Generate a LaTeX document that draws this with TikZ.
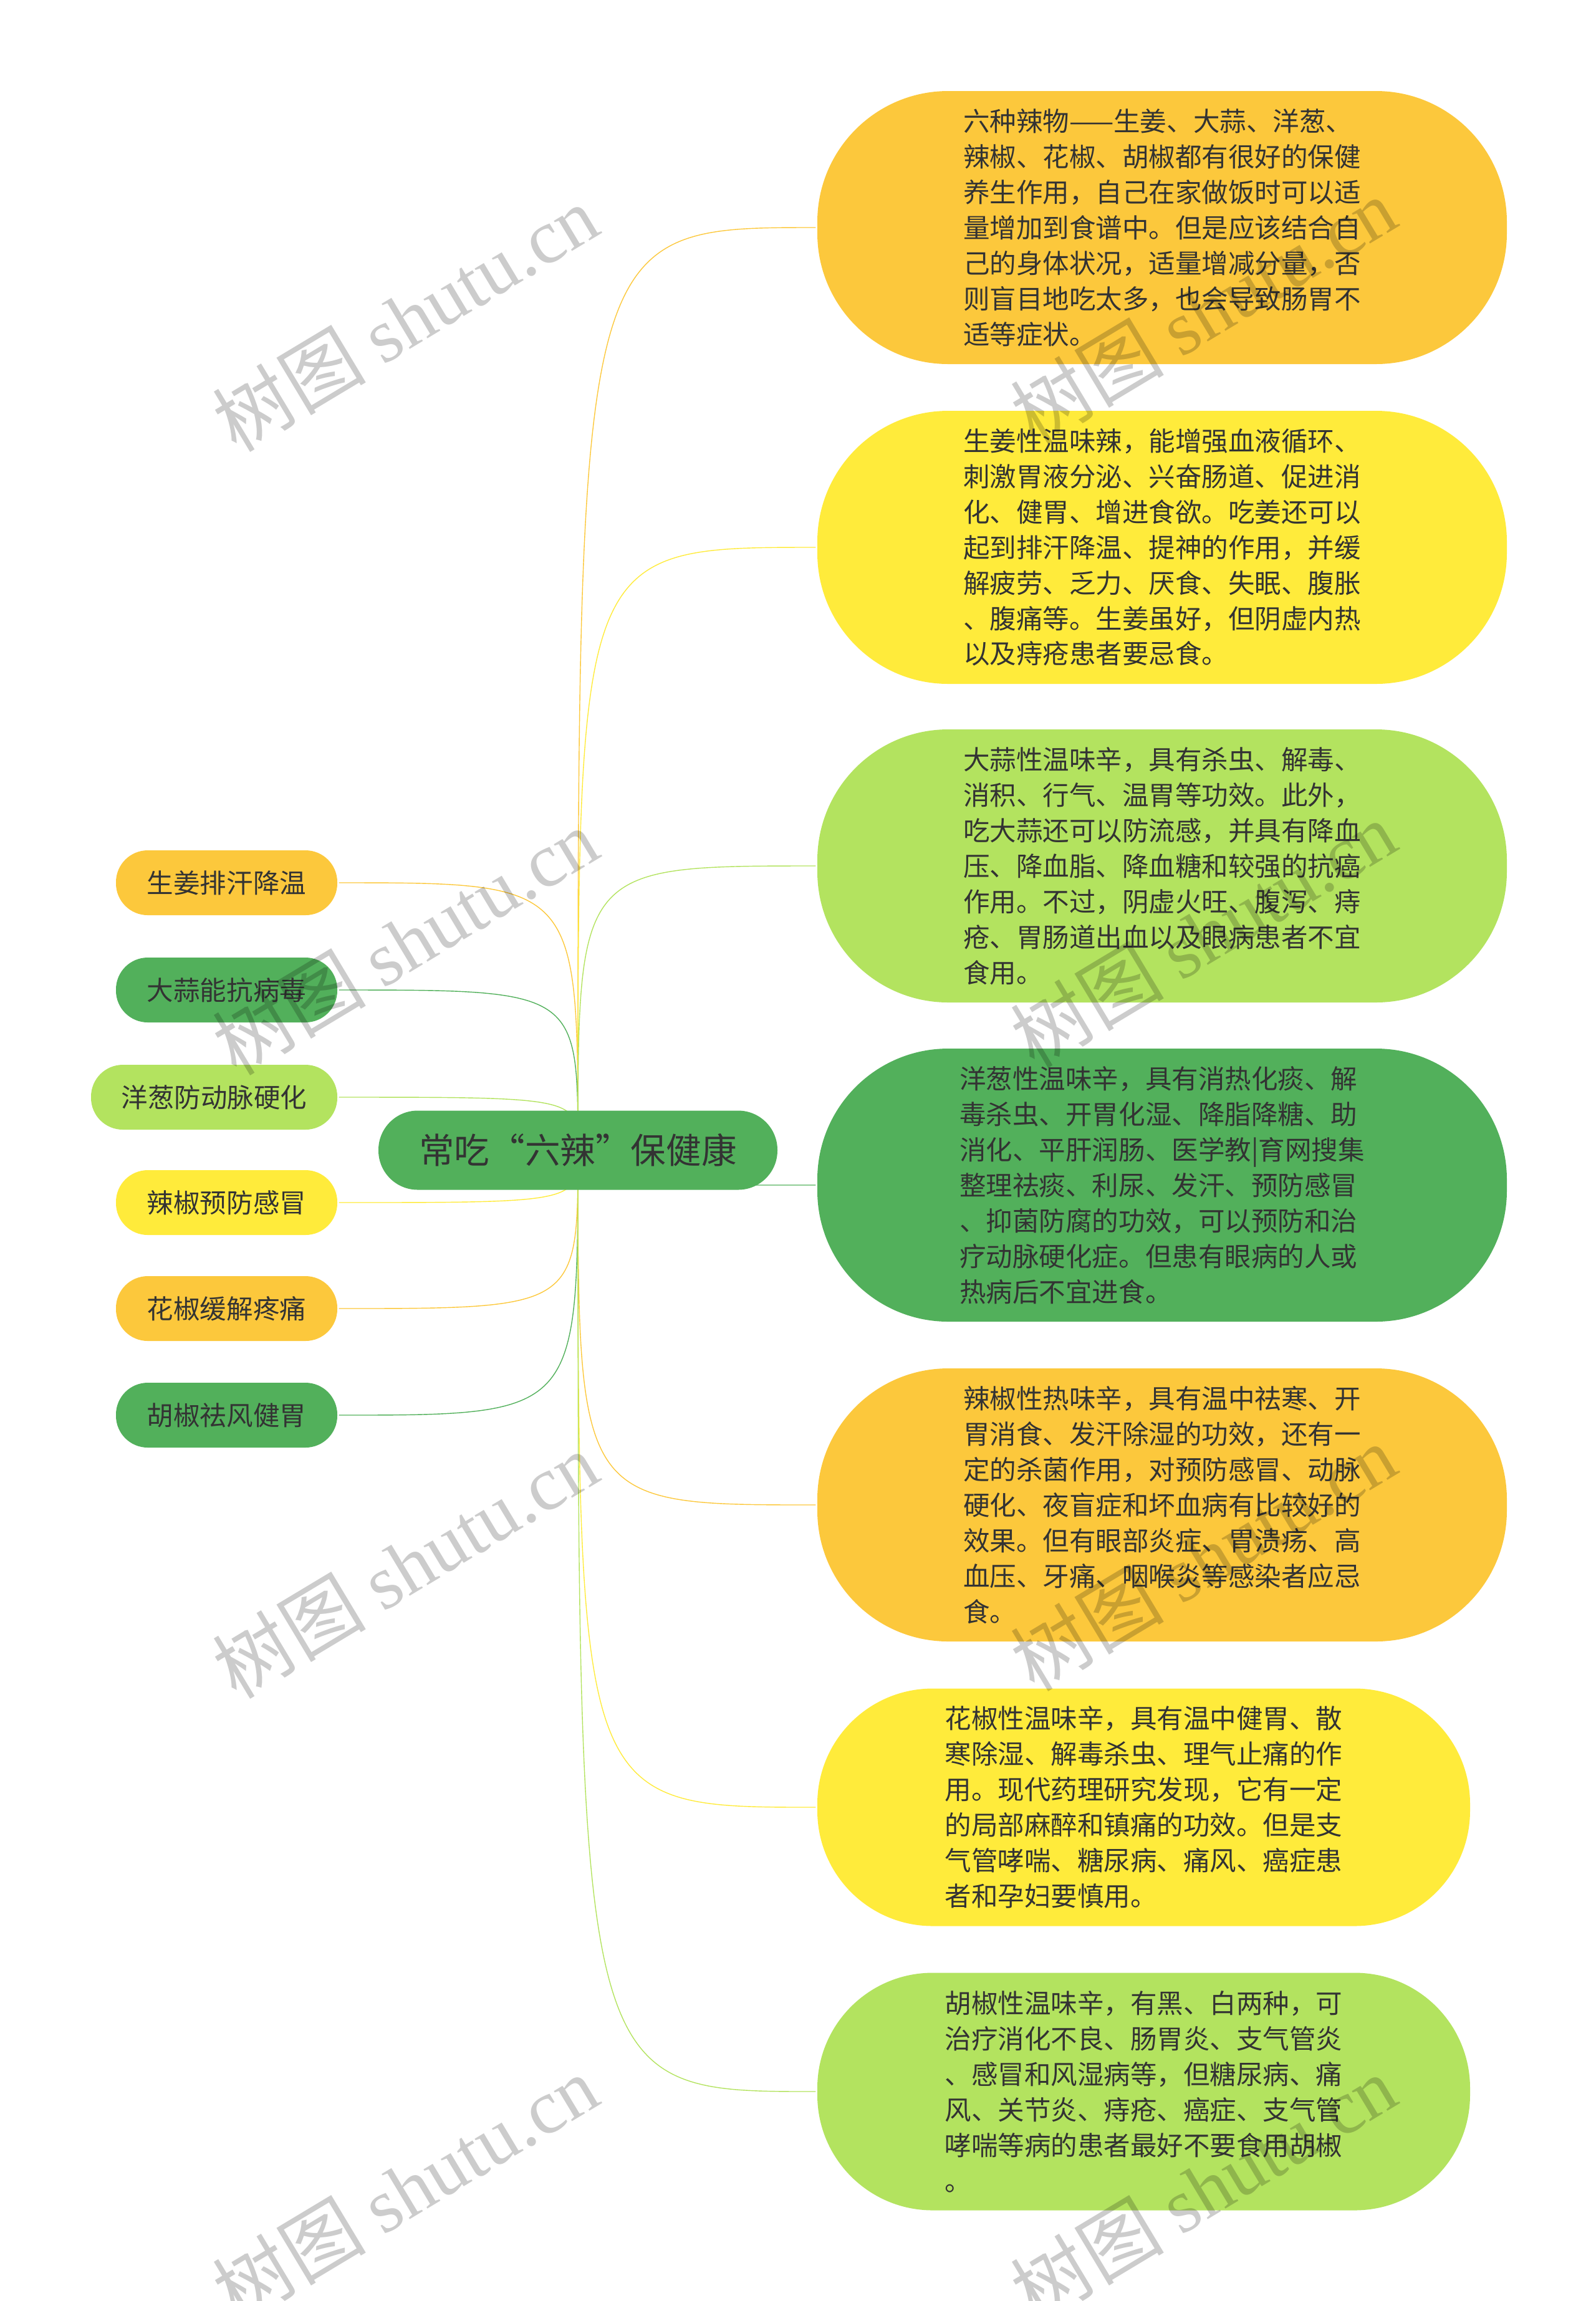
\documentclass[tikz,border=0pt]{standalone}
\usepackage{fontspec}
\newfontfamily\cjkfont{Noto Sans CJK SC}
\newfontfamily\wmfont{Liberation Serif}
\usepackage{tikz}
\usetikzlibrary{backgrounds}
\usepackage{xcolor}
\definecolor{orangec}{HTML}{FCC83C}
\definecolor{yellowc}{HTML}{FFEB3B}
\definecolor{limec}{HTML}{B3E35F}
\definecolor{greenc}{HTML}{52B05B}
\definecolor{txt}{HTML}{333333}

\begin{document}
\begin{tikzpicture}[line width=1.5pt,
		                    root node/.style={draw=none,rounded corners=0.63cm,minimum width=6.4cm,minimum height=1.27cm,inner sep=0pt,text=txt,font=\cjkfont\fontsize{16.1}{19}\selectfont},
		                    left node/.style={draw=none,rounded corners=0.51cm,minimum height=1.04cm,inner sep=0pt,text=txt,font=\cjkfont\fontsize{12.1}{15}\selectfont},
		                    right node/.style={draw=none,rounded corners=2.1cm,minimum width=11.06cm,minimum height=4.38cm,inner sep=0pt,align=left,text=txt,font=\cjkfont\fontsize{12.1}{16.2}\selectfont},
		                    small node/.style={right node,rounded corners=1.85cm,minimum width=10.47cm,minimum height=3.81cm},
		                    mark text/.style={rotate=31,text=black,opacity=0.2,inner sep=0pt}]

			\useasboundingbox (0, 0) rectangle (25.6, -36.91);

			% Root
			\node[root node,fill=greenc] (C) at (9.27, -18.45) {常吃“六辣”保健康};

			% Left branches
			\node[left node,fill=orangec,minimum width=3.55cm] (L1) at (3.635, -14.16) {生姜排汗降温};
			\node[left node,fill=greenc,minimum width=3.55cm] (L2) at (3.635, -15.88) {大蒜能抗病毒};
			\node[left node,fill=limec,minimum width=3.95cm] (L3) at (3.435, -17.60) {洋葱防动脉硬化};
			\node[left node,fill=yellowc,minimum width=3.55cm] (L4) at (3.635, -19.29) {辣椒预防感冒};
			\node[left node,fill=orangec,minimum width=3.55cm] (L5) at (3.635, -20.99) {花椒缓解疼痛};
			\node[left node,fill=greenc,minimum width=3.55cm] (L6) at (3.635, -22.70) {胡椒祛风健胃};

			% Right branches
			\node[right node,fill=orangec] (R1) at (18.64, -3.65) {六种辣物——生姜、大蒜、洋葱、\\辣椒、花椒、胡椒都有很好的保健\\养生作用，自己在家做饭时可以适\\量增加到食谱中。但是应该结合自\\己的身体状况，适量增减分量，否\\则盲目地吃太多，也会导致肠胃不\\适等症状。};
			\node[right node,fill=yellowc] (R2) at (18.64, -8.78) {生姜性温味辣，能增强血液循环、\\刺激胃液分泌、兴奋肠道、促进消\\化、健胃、增进食欲。吃姜还可以\\起到排汗降温、提神的作用，并缓\\解疲劳、乏力、厌食、失眠、腹胀\\、腹痛等。生姜虽好，但阴虚内热\\以及痔疮患者要忌食。};
			\node[right node,fill=limec] (R3) at (18.64, -13.89) {大蒜性温味辛，具有杀虫、解毒、\\消积、行气、温胃等功效。此外，\\吃大蒜还可以防流感，并具有降血\\压、降血脂、降血糖和较强的抗癌\\作用。不过，阴虚火旺、腹泻、痔\\疮、胃肠道出血以及眼病患者不宜\\食用。};
			\node[right node,fill=greenc] (R4) at (18.64, -19.01) {洋葱性温味辛，具有消热化痰、解\\毒杀虫、开胃化湿、降脂降糖、助\\消化、平肝润肠、医学教|育网搜集\\整理祛痰、利尿、发汗、预防感冒\\、抑菌防腐的功效，可以预防和治\\疗动脉硬化症。但患有眼病的人或\\热病后不宜进食。};
			\node[right node,fill=orangec] (R5) at (18.64, -24.14) {辣椒性热味辛，具有温中祛寒、开\\胃消食、发汗除湿的功效，还有一\\定的杀菌作用，对预防感冒、动脉\\硬化、夜盲症和坏血病有比较好的\\效果。但有眼部炎症、胃溃疡、高\\血压、牙痛、咽喉炎等感染者应忌\\食。};
			\node[small node,fill=yellowc] (R6) at (18.345, -28.99) {花椒性温味辛，具有温中健胃、散\\寒除湿、解毒杀虫、理气止痛的作\\用。现代药理研究发现，它有一定\\的局部麻醉和镇痛的功效。但是支\\气管哮喘、糖尿病、痛风、癌症患\\者和孕妇要慎用。};
			\node[small node,fill=limec] (R7) at (18.345, -33.55) {胡椒性温味辛，有黑、白两种，可\\治疗消化不良、肠胃炎、支气管炎\\、感冒和风湿病等，但糖尿病、痛\\风、关节炎、痔疮、癌症、支气管\\哮喘等病的患者最好不要食用胡椒\\。};

			% Branch lines
			\begin{scope}[on background layer]
			\draw[orangec] (L1.east) .. controls (C.center |- L1.east) .. (C.center);
			\draw[greenc] (L2.east) .. controls (C.center |- L2.east) .. (C.center);
			\draw[limec] (L3.east) .. controls (C.center |- L3.east) .. (C.center);
			\draw[yellowc] (L4.east) .. controls (C.center |- L4.east) .. (C.center);
			\draw[orangec] (L5.east) .. controls (C.center |- L5.east) .. (C.center);
			\draw[greenc] (L6.east) .. controls (C.center |- L6.east) .. (C.center);

			\draw[orangec] (C.center) .. controls (C.center |- R1.west) .. (R1.west);
			\draw[yellowc] (C.center) .. controls (C.center |- R2.west) .. (R2.west);
			\draw[limec] (C.center) .. controls (C.center |- R3.west) .. (R3.west);
			\draw[greenc] (C.center) .. controls (C.center |- R4.west) .. (R4.west);
			\draw[orangec] (C.center) .. controls (C.center |- R5.west) .. (R5.west);
			\draw[yellowc] (C.center) .. controls (C.center |- R6.west) .. (R6.west);
			\draw[limec] (C.center) .. controls (C.center |- R7.west) .. (R7.west);
			\end{scope}

			% Watermarks
			\node[mark text] (W1) at (6.5, -5.1) {\fontsize{35}{40}\selectfont\cjkfont 树图 \wmfont shutu.cn};
			\node[mark text] (W2) at (19.3, -4.98) {\fontsize{35}{40}\selectfont\cjkfont 树图 \wmfont shutu.cn};
			\node[mark text] (W3) at (6.5, -15.1) {\fontsize{35}{40}\selectfont\cjkfont 树图 \wmfont shutu.cn};
			\node[mark text] (W4) at (19.3, -14.98) {\fontsize{35}{40}\selectfont\cjkfont 树图 \wmfont shutu.cn};
			\node[mark text] (W5) at (6.5, -25.1) {\fontsize{35}{40}\selectfont\cjkfont 树图 \wmfont shutu.cn};
			\node[mark text] (W6) at (19.3, -24.98) {\fontsize{35}{40}\selectfont\cjkfont 树图 \wmfont shutu.cn};
			\node[mark text] (W7) at (6.5, -35.1) {\fontsize{35}{40}\selectfont\cjkfont 树图 \wmfont shutu.cn};
			\node[mark text] (W8) at (19.3, -35.1) {\fontsize{35}{40}\selectfont\cjkfont 树图 \wmfont shutu.cn};

		\end{tikzpicture}
\end{document}
